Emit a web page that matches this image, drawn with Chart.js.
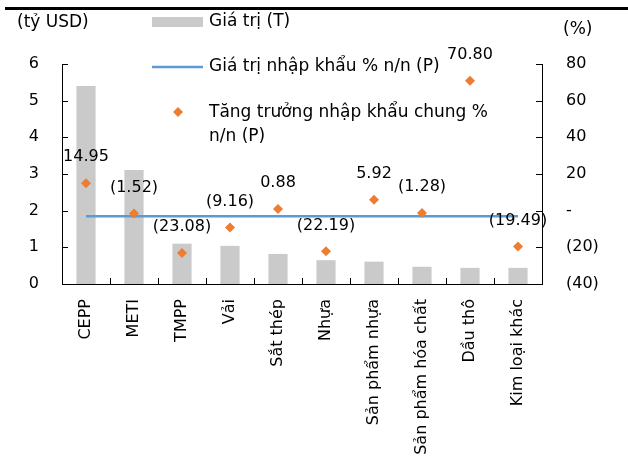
<!DOCTYPE html>
<html>
<head>
<meta charset="utf-8">
<script src="https://cdn.jsdelivr.net/npm/chart.js@4"></script>
<style>
html,body{margin:0;padding:0;background:#fff;}
#wrap{width:628px;height:458px;position:relative;}
</style>
</head>
<body>
<div id="wrap"><canvas id="c" width="628" height="458"></canvas></div>
<script>
const categories = ["CEPP","METI","TMPP","Vải","Sắt thép","Nhựa","Sản phẩm nhựa","Sản phẩm hóa chất","Dầu thô","Kim loại khác"];
const valueT = [5.40, 3.11, 1.10, 1.04, 0.82, 0.65, 0.61, 0.47, 0.44, 0.44];
const importGrowthTotal = [-3.0, -3.0, -3.0, -3.0, -3.0, -3.0, -3.0, -3.0, -3.0, -3.0];
const growthByItem = [14.95, -1.52, -23.08, -9.16, 0.88, -22.19, 5.92, -1.28, 70.80, -19.49];
const leftTicks = [0, 1, 2, 3, 4, 5, 6];
const rightTicks = [-40, -20, 0, 20, 40, 60, 80];
const legendLabels = ["Giá trị (T)", "Giá trị nhập khẩu % n/n (P)", ["Tăng trưởng nhập khẩu chung %", "n/n (P)"]];

const FONT = "DejaVu Sans";
const BAR_COLOR = "#cacaca";
const LINE_COLOR = "#5b9bd5";
const DOT_COLOR = "#ed7d31";

function fmt(v){ return v < 0 ? "(" + Math.abs(v).toFixed(2) + ")" : v.toFixed(2); }

const extras = {
  id: "extras",
  afterDraw(chart){
    const ctx = chart.ctx;
    const ca = chart.chartArea;
    const sx = chart.scales.x, sy = chart.scales.y, sy2 = chart.scales.y2;
    ctx.save();
    // top rule
    ctx.fillStyle = "#000";
    ctx.fillRect(5, 7, 623, 3);
    // inward tick marks
    ctx.strokeStyle = "#000";
    ctx.lineWidth = 1;
    ctx.beginPath();
    leftTicks.forEach(v => { const y = Math.round(sy.getPixelForValue(v)) + 0.5; ctx.moveTo(ca.left, y); ctx.lineTo(ca.left + 6, y); });
    rightTicks.forEach(v => { const y = Math.round(sy2.getPixelForValue(v)) + 0.5; ctx.moveTo(ca.right, y); ctx.lineTo(ca.right - 6, y); });
    for (let i = 0; i <= categories.length; i++) {
      let x;
      if (i === 0) x = ca.left; else if (i === categories.length) x = ca.right;
      else x = (sx.getPixelForValue(i - 1) + sx.getPixelForValue(i)) / 2;
      x = Math.round(x) + 0.5;
      ctx.moveTo(x, ca.bottom); ctx.lineTo(x, ca.bottom - 6);
    }
    ctx.stroke();
    // data labels
    ctx.font = "16px '" + FONT + "'";
    ctx.fillStyle = "#000";
    ctx.textAlign = "center";
    ctx.textBaseline = "middle";
    const meta = chart.getDatasetMeta(2);
    meta.data.forEach((pt, i) => { ctx.fillText(fmt(growthByItem[i]), pt.x, pt.y - 26); });
    // axis titles
    ctx.font = "17px '" + FONT + "'";
    ctx.textAlign = "left";
    ctx.fillText("(tỷ USD)", 17, 23);
    ctx.fillText("(%)", 563, 30);
    // legend
    ctx.fillStyle = BAR_COLOR;
    ctx.fillRect(152, 17, 51, 10);
    ctx.fillStyle = "#000";
    ctx.fillText(legendLabels[0], 209, 22);
    ctx.strokeStyle = LINE_COLOR;
    ctx.lineWidth = 2.5;
    ctx.beginPath(); ctx.moveTo(152, 67); ctx.lineTo(203, 67); ctx.stroke();
    ctx.fillText(legendLabels[1], 209, 67);
    ctx.fillStyle = DOT_COLOR;
    ctx.beginPath(); ctx.moveTo(178, 107); ctx.lineTo(183, 112); ctx.lineTo(178, 117); ctx.lineTo(173, 112); ctx.closePath(); ctx.fill();
    ctx.fillStyle = "#000";
    ctx.fillText(legendLabels[2][0], 209, 113);
    ctx.fillText(legendLabels[2][1], 209, 137);
    ctx.restore();
  }
};

const tickFont = { family: FONT, size: 16 };

new Chart(document.getElementById("c"), {
  data: {
    labels: categories,
    datasets: [
      { type: "bar", label: legendLabels[0], data: valueT, backgroundColor: BAR_COLOR, yAxisID: "y", barPercentage: 0.8, categoryPercentage: 0.5, order: 2 },
      { type: "line", label: legendLabels[1], data: importGrowthTotal, borderColor: LINE_COLOR, borderWidth: 2.5, pointRadius: 0, fill: false, yAxisID: "y2", order: 1 },
      { type: "line", label: legendLabels[2].join(" "), data: growthByItem, showLine: false, pointStyle: "rectRot", pointRadius: 5, pointBackgroundColor: DOT_COLOR, pointBorderColor: DOT_COLOR, pointBorderWidth: 0, yAxisID: "y2", order: 0 }
    ]
  },
  options: {
    responsive: false,
    devicePixelRatio: 1,
    animation: false,
    layout: { padding: { top: 64, left: 0, right: 0, bottom: 0 } },
    plugins: { legend: { display: false }, tooltip: { enabled: false }, title: { display: false } },
    scales: {
      x: {
        type: "category", offset: true,
        grid: { display: false, drawTicks: false },
        border: { display: true, color: "#000", width: 1 },
        ticks: { maxRotation: 90, minRotation: 90, autoSkip: false, padding: 15, font: tickFont, color: "#000" },
        afterFit(s){ s.height = 174; }
      },
      y: {
        position: "left", min: 0, max: 6,
        grid: { display: false, drawTicks: false },
        border: { display: true, color: "#000", width: 1 },
        ticks: { stepSize: 1, padding: 23, font: tickFont, color: "#000" },
        afterFit(s){ s.width = 62; }
      },
      y2: {
        position: "right", min: -40, max: 80,
        grid: { display: false, drawTicks: false },
        border: { display: true, color: "#000", width: 1 },
        ticks: { stepSize: 20, padding: 24, font: tickFont, color: "#000",
          callback: v => v === 0 ? "-" : (v < 0 ? "(" + Math.abs(v) + ")" : String(v)) },
        afterFit(s){ s.width = 86; }
      }
    }
  },
  plugins: [extras]
});
</script>
</body>
</html>
